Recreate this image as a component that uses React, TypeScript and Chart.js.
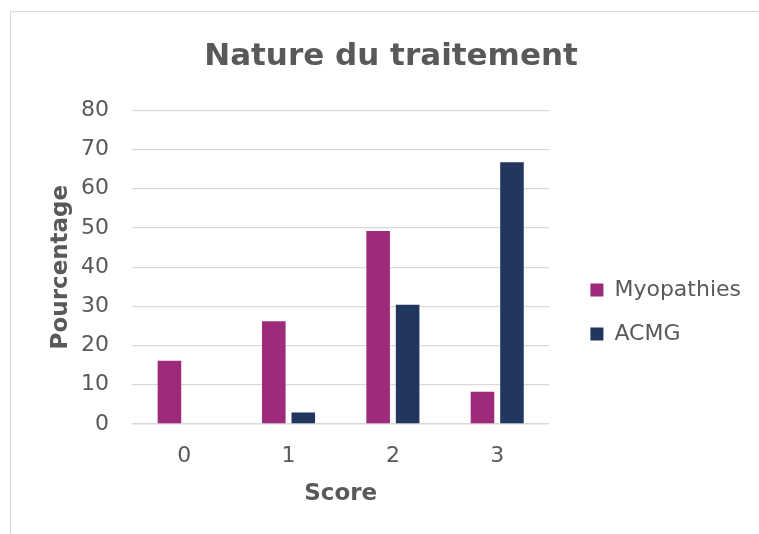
import React, { useEffect, useRef } from "react";
import { Chart, registerables } from "chart.js";

Chart.register(...registerables);

const categories = ["0", "1", "2", "3"];
const myopathies = [16.1, 26.2, 49.2, 8.2];
const acmg = [0, 2.9, 30.4, 66.7];
const yTicks = [0, 10, 20, 30, 40, 50, 60, 70, 80];

const FONT = "'DejaVu Sans', sans-serif";
const GRAY = "#595959";

export default function App() {
  const ref = useRef<HTMLCanvasElement>(null);
  useEffect(() => {
    if (!ref.current) return;
    const chart = new Chart(ref.current, {
      type: "bar",
      data: {
        labels: categories,
        datasets: [
          {
            label: "Myopathies",
            data: myopathies,
            backgroundColor: "#9E2A7B",
            categoryPercentage: 0.565,
            barPercentage: 0.8,
          },
          {
            label: "ACMG",
            data: acmg,
            backgroundColor: "#22365F",
            categoryPercentage: 0.565,
            barPercentage: 0.8,
          },
        ],
      },
      options: {
        animation: false,
        responsive: false,
        maintainAspectRatio: false,
        layout: { padding: { left: 20, right: 8, top: 0, bottom: 26 } },
        plugins: {
          title: {
            display: true,
            text: "Nature du traitement",
            color: GRAY,
            font: { family: FONT, size: 31, weight: "bold" },
            padding: { top: 26, bottom: 35 },
          },
          legend: {
            position: "right",
            maxWidth: 220,
            title: {
              display: true,
              text: " ",
              font: { family: FONT, size: 10 },
              padding: { top: 92, bottom: 0 },
            },
            labels: {
              color: GRAY,
              font: { family: FONT, size: 22 },
              boxWidth: 13,
              boxHeight: 13,
              padding: 22,
            },
          },
          tooltip: { enabled: false },
        },
        scales: {
          x: {
            grid: { display: false, drawTicks: false },
            border: { display: false },
            ticks: {
              color: GRAY,
              font: { family: FONT, size: 22 },
              padding: 19,
            },
            title: {
              display: true,
              text: "Score",
              color: GRAY,
              font: { family: FONT, size: 23, weight: "bold" },
              padding: { top: -8, bottom: 0 },
            },
          },
          y: {
            min: 0,
            max: 80,
            afterBuildTicks: (scale: any) => {
              scale.ticks = yTicks.map((v) => ({ value: v }));
            },
            afterFit: (scale: any) => {
              scale.width = 101;
            },
            grid: {
              color: "#d9d9d9",
              lineWidth: (ctx: any) => (ctx.tick && ctx.tick.value === 0 ? 1.6 : 1.2),
              drawTicks: false,
            },
            border: { display: false },
            ticks: {
              color: GRAY,
              font: { family: FONT, size: 22 },
              padding: 23,
            },
            title: {
              display: true,
              text: "Pourcentage",
              color: GRAY,
              font: { family: FONT, size: 23, weight: "bold" },
              padding: { top: 16, bottom: 5 },
            },
          },
          gap: {
            type: "linear",
            position: "right",
            display: true,
            grid: { display: false, drawTicks: false },
            border: { display: false },
            ticks: { display: false },
            afterFit: (scale: any) => {
              scale.width = 19;
            },
          },
        },
      },
    });
    return () => chart.destroy();
  }, []);

  return (
    <div
      style={{
        position: "absolute",
        left: 10,
        top: 11,
        width: 749,
        height: 523,
        boxSizing: "border-box",
        borderLeft: "1px solid #d9d9d9",
        borderTop: "1px solid #d9d9d9",
        overflow: "hidden",
        background: "#fff",
      }}
    >
      <canvas ref={ref} width={748} height={522} style={{ display: "block" }} />
    </div>
  );
}
